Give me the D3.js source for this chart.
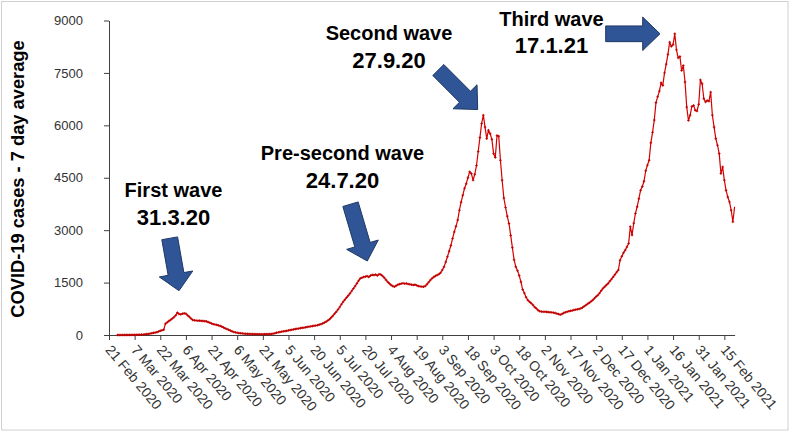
<!DOCTYPE html>
<html><head><meta charset="utf-8">
<script src="https://cdn.jsdelivr.net/npm/d3@7"></script>
<style>body{margin:0;background:#fff} svg{display:block}</style>
</head><body><svg id="c" width="790" height="433"></svg>
<script>
// ---- data ----
const startDate = "2020-02-26"; // first day of the daily series
const cases = [
 0,0,0,0,1,1,2,2,3,4,
 5,6,8,10,12,15,20,25,30,40,
 50,60,70,80,100,120,135,150,320,360,
 400,430,470,510,560,640,600,590,610,620,
 610,560,520,470,430,420,415,410,410,405,
 400,395,390,370,350,330,310,300,290,275,
 260,240,215,190,170,150,125,105,85,75,
 65,55,50,45,40,35,32,30,28,26,
 25,24,23,22,22,22,23,24,25,27,
 30,40,50,65,75,85,95,105,110,120,
 130,140,150,160,170,180,185,195,205,210,
 220,230,240,245,255,265,270,280,295,310,
 330,355,380,415,450,500,550,610,665,730,
 800,880,950,1010,1070,1130,1190,1260,1330,1400,
 1475,1550,1620,1640,1660,1670,1685,1660,1700,1720,
 1715,1730,1700,1740,1730,1690,1640,1580,1520,1475,
 1430,1400,1380,1410,1440,1455,1470,1480,1470,1475,
 1460,1450,1440,1430,1440,1420,1400,1390,1385,1380,
 1400,1450,1510,1570,1620,1660,1690,1715,1740,1780,
 1860,1950,2090,2240,2400,2560,2760,2950,3110,3290,
 3570,3800,4000,4200,4330,4500,4670,4620,4430,4600,
 4850,5250,5650,6050,6290,5950,5620,5860,5760,5600,
 5190,5080,5710,5690,5000,4430,3920,3650,3400,3190,
 2850,2500,2150,1950,1840,1700,1520,1300,1200,1080,
 1000,950,910,860,800,760,710,680,670,665,
 665,660,655,650,645,640,630,610,600,580,
 600,630,650,665,680,690,700,715,725,735,
 745,760,785,820,855,890,920,960,1000,1050,
 1100,1140,1200,1270,1335,1380,1430,1475,1540,1600,
 1665,1730,1800,1860,2140,2250,2350,2430,2520,2620,
 3100,2860,3200,3480,3670,3900,4140,4250,4400,4700,
 4860,5000,5500,5800,6150,6650,6820,6980,7220,7140,
 7500,7750,8030,8380,8260,8310,8620,8160,7930,7970,
 7570,7710,7240,6520,6140,6290,6540,6570,6430,6410,
 6600,7300,7190,6760,6670,6710,6690,6950,6290,5950,
 5620,5430,5190,4620,4810,4430,4140,3950,3810,3570,
 3240,3670
];
const yTicks = [0,1500,3000,4500,6000,7500,9000];
const xTickLabels = ["21 Feb 2020","7 Mar 2020","22 Mar 2020","6 Apr 2020","21 Apr 2020",
 "6 May 2020","21 May 2020","5 Jun 2020","20 Jun 2020","5 Jul 2020","20 Jul 2020",
 "4 Aug 2020","19 Aug 2020","3 Sep 2020","18 Sep 2020","3 Oct 2020","18 Oct 2020",
 "2 Nov 2020","17 Nov 2020","2 Dec 2020","17 Dec 2020","1 Jan 2021","16 Jan 2021",
 "31 Jan 2021","15 Feb 2021"];
const axisStart = "2020-02-21", axisEnd = "2021-02-21";
const waveNames = ["First wave","Pre-second wave","Second wave","Third wave"];
const waveDates = ["31.3.20","24.7.20","27.9.20","17.1.21"];
const yTitle = "COVID-19 cases - 7 day average";

// ---- drawing ----
const svg = d3.select("#c");
svg.append("rect").attr("x",1.5).attr("y",1.5).attr("width",786.5).attr("height",428.5)
  .attr("fill","#fff").attr("stroke","#d0d0d0").attr("stroke-width",1);

const parseISO = d3.timeParse("%Y-%m-%d");
const parseLbl = d3.timeParse("%d %b %Y");
const x = d3.scaleTime().domain([parseISO(axisStart), parseISO(axisEnd)]).range([109, 734.6]);
const y = d3.scaleLinear().domain([0, 9000]).range([335, 20.5]);
const s0 = parseISO(startDate);
const series = cases.map((v,i)=>({date:d3.timeDay.offset(s0,i), v}));

const axisColor = "#404040";
const tickFont = "'Liberation Sans Narrow','Arial Narrow','Liberation Sans',sans-serif";
// y axis
const ya = svg.append("g").attr("transform","translate(109,0)")
  .call(d3.axisLeft(y).tickValues(yTicks).tickSize(5).tickSizeOuter(0).tickPadding(21).tickFormat(d3.format("d")));
ya.select(".domain").attr("stroke",axisColor);
ya.selectAll(".tick line").attr("stroke",axisColor);
ya.selectAll(".tick text").attr("fill","#333")
  .style("font-family",tickFont).style("font-size","13px");

// x axis
const xa = svg.append("g").attr("transform","translate(0,335)")
  .call(d3.axisBottom(x).tickValues(xTickLabels.map(parseLbl)).tickSize(5).tickSizeOuter(0)
  .tickFormat((d,i)=>xTickLabels[i]));
xa.select(".domain").attr("stroke",axisColor);
xa.selectAll(".tick line").attr("stroke",axisColor);
xa.selectAll(".tick text").attr("fill","#333")
  .style("font-family",tickFont).style("font-size","14px")
  .attr("text-anchor","start").attr("x",0).attr("y",0).attr("dy","0.35em")
  .attr("transform","translate(-1,12) rotate(50)");

// y title
svg.append("text").attr("transform","translate(24,179) rotate(-90)")
  .attr("text-anchor","middle").style("font-family","'Liberation Sans',Arial,sans-serif")
  .style("font-weight","bold").style("font-size","18.3px").attr("fill","#000").text(yTitle);

// line
const line = d3.line().x(d=>x(d.date)).y(d=>y(d.v));
svg.append("path").datum(series).attr("d",line).attr("fill","none")
  .attr("stroke","#D40000").attr("stroke-width",1.2).attr("stroke-linejoin","round");
svg.append("g").selectAll("path").data(series.slice(0,-1)).join("path")
  .attr("transform",d=>`translate(${x(d.date)},${y(d.v)})`)
  .attr("d","M-1.3,0H1.3M0,-1.3V1.3").attr("stroke","#C00000").attr("stroke-width",0.9);

// annotations
function arrowPts(x0,y0,x1,y1,sw,hw,hl){
  const dx=x1-x0, dy=y1-y0, L=Math.hypot(dx,dy), ux=dx/L, uy=dy/L, px=-uy, py=ux;
  const bx=x1-ux*hl, by=y1-uy*hl;
  return [[x0+px*sw/2,y0+py*sw/2],[bx+px*sw/2,by+py*sw/2],[bx+px*hw/2,by+py*hw/2],[x1,y1],
          [bx-px*hw/2,by-py*hw/2],[bx-px*sw/2,by-py*sw/2],[x0-px*sw/2,y0-py*sw/2]];
}
const arrows = [
  [169.7,238.3,179,290.7,16,34,17],
  [350.5,204.2,367.3,261,16,33,17],
  [438.3,70,477.7,109.5,15.6,34,18],
  [605.7,33.8,660,33.8,15.7,33.4,17.3]
];
svg.append("g").selectAll("polygon").data(arrows).join("polygon")
  .attr("points",a=>arrowPts(...a).map(p=>p.join(",")).join(" "))
  .attr("fill","#2F5597").attr("stroke","#1F3864").attr("stroke-width",1);

const labelPos = [[173.5,196.7,225.3],[342.5,160,188.3],[389,40,68.3],[551.5,26,53.3]];
const ann = svg.append("g").style("font-family","'Liberation Sans',Arial,sans-serif")
  .style("font-weight","bold").attr("fill","#000").attr("text-anchor","middle");
waveNames.forEach((n,i)=>{
  ann.append("text").attr("x",labelPos[i][0]).attr("y",labelPos[i][1]).style("font-size","20px").text(n);
  ann.append("text").attr("x",labelPos[i][0]).attr("y",labelPos[i][2]).style("font-size","22px").text(waveDates[i]);
});
</script></body></html>
